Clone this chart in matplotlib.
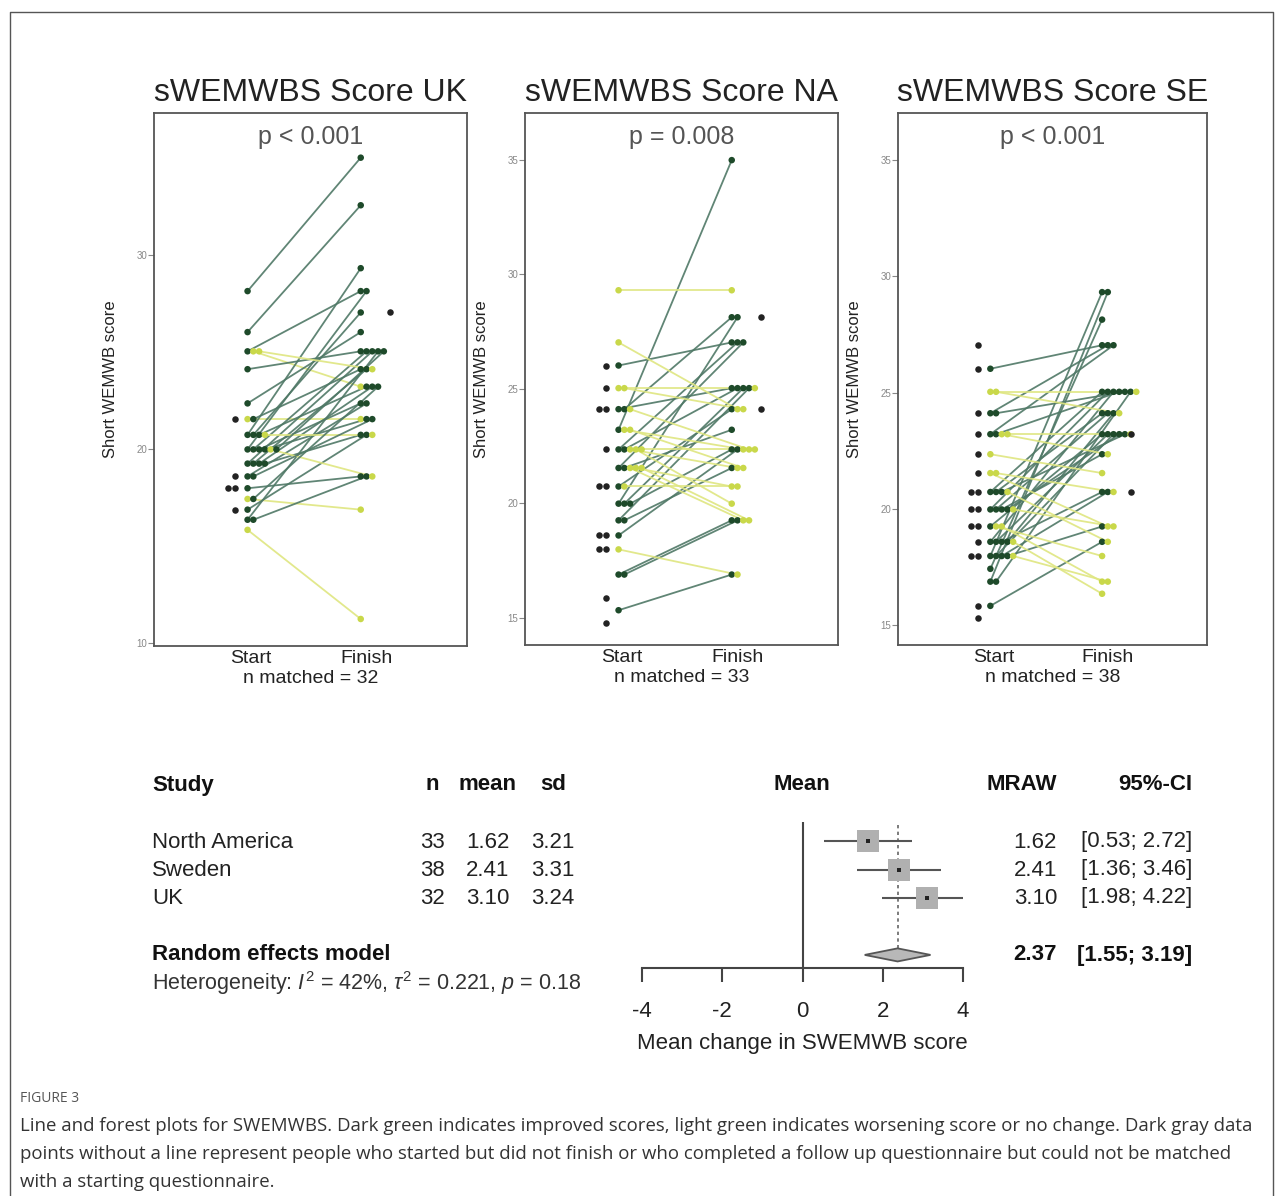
import numpy as np
import matplotlib
matplotlib.use('Agg')
import matplotlib.pyplot as plt
from matplotlib.patches import Polygon

plt.rcParams['font.family'] = ['Liberation Sans', 'DejaVu Sans']
plt.rcParams['axes.unicode_minus'] = False
plt.rcParams['mathtext.fontset'] = 'custom'
plt.rcParams['mathtext.rm'] = 'Liberation Sans'
plt.rcParams['mathtext.it'] = 'Liberation Sans:italic'

# ---- line plot data (matched start/finish pairs + unmatched points) ----
uk_start = [28.13, 26.02, 25.03, 25.03, 24.11, 22.35, 21.54, 21.54, 20.73, 20.73, 20.73,
            19.98, 19.98, 19.98, 19.98, 19.25, 19.25, 19.25, 19.25, 18.59, 17.98, 17.43,
            16.88, 16.36, 15.84, 16.36, 19.98, 20.73, 17.43, 18.59, 19.98, 25.03]
uk_finish = [35.00, 32.55, 28.13, 23.21, 25.03, 26.02, 21.54, 24.11, 29.31, 27.03, 23.21,
             28.13, 25.03, 22.35, 21.54, 25.03, 24.11, 23.21, 20.73, 22.35, 18.59, 16.88,
             20.73, 25.03, 11.25, 18.59, 18.59, 20.73, 23.21, 21.54, 25.03, 24.11]
uk_start_only = [21.54, 18.59, 17.98, 17.98, 16.88]
uk_finish_only = [27.03]

na_start = [23.21, 26.02, 24.11, 24.11, 22.35, 22.35, 21.54, 21.54, 19.98, 19.98, 19.98,
            19.25, 19.25, 18.59, 16.88, 16.88, 15.32, 20.73, 29.31, 27.03, 25.03, 23.21,
            22.35, 21.54, 21.54, 20.73, 17.98, 22.35, 21.54, 25.03, 23.21, 24.11, 22.35]
na_finish = [35.00, 27.03, 25.03, 28.13, 27.03, 25.03, 27.03, 23.21, 28.13, 25.03, 22.35,
             25.03, 21.54, 22.35, 19.25, 19.25, 16.88, 24.11, 29.31, 24.11, 25.03, 22.35,
             21.54, 19.25, 20.73, 20.73, 16.88, 19.98, 19.25, 24.11, 21.54, 22.35, 22.35]
na_start_only = [26.02, 25.03, 24.11, 24.11, 22.35, 20.73, 20.73, 18.59, 18.59, 17.98, 17.98,
                 15.84, 14.75]
na_finish_only = [28.13, 24.11]

se_start = [17.98, 16.88, 17.43, 26.02, 24.11, 23.21, 20.73, 19.98, 18.59, 20.73, 19.98,
            19.25, 18.59, 17.98, 19.98, 18.59, 17.98, 15.84, 17.98, 23.21, 24.11, 19.98,
            18.59, 20.73, 16.88, 25.03, 25.03, 23.21, 23.21, 22.35, 21.54, 19.25, 19.25,
            18.59, 17.98, 20.73, 19.98, 21.54]
se_finish = [29.31, 29.31, 28.13, 27.03, 27.03, 27.03, 25.03, 25.03, 25.03, 24.11, 24.11,
             23.21, 23.21, 23.21, 22.35, 20.73, 20.73, 18.59, 19.25, 25.03, 25.03, 23.21,
             24.11, 23.21, 25.03, 25.03, 24.11, 22.35, 23.21, 21.54, 19.25, 17.98, 16.88,
             16.36, 16.88, 18.59, 19.25, 20.73]
se_start_only = [27.03, 26.02, 24.11, 23.21, 22.35, 21.54, 20.73, 20.73, 19.98, 19.98, 19.25,
                 19.25, 18.59, 17.98, 17.98, 15.84, 15.32]
se_finish_only = [23.21, 20.73]

# ---- forest plot data ----
studies = ['North America', 'Sweden', 'UK']
n_obs = [33, 38, 32]
means = [1.62, 2.41, 3.10]
sds = [3.21, 3.31, 3.24]
ci_lo = [0.53, 1.36, 1.98]
ci_hi = [2.72, 3.46, 4.22]
re_mean, re_lo, re_hi = 2.37, 1.55, 3.19
het_text = r'Heterogeneity: $I^2$ = 42%, $\tau^2$ = 0.221, $p$ = 0.18'

DARK = '#1e4a2a'
DARK_LINE = '#4f7866'
YELLOW = '#c9d84a'
YELLOW_LINE = '#dfe680'
GRAY = '#222222'

W, H = 1281, 1196
fig = plt.figure(figsize=(W / 100, H / 100), dpi=100)


def rect(l, t, r, b):
    return [l / W, 1 - b / H, (r - l) / W, (b - t) / H]


bg = fig.add_axes([0, 0, 1, 1])
bg.set_xlim(0, W)
bg.set_ylim(H, 0)
bg.axis('off')
bg.plot([10, 10, 1273, 1273], [H + 5, 12, 12, H + 5], color='#555555', lw=1)


def dodge(vals, base, step):
    seen = {}
    xs = []
    for v in vals:
        k = seen.get(v, 0)
        seen[v] = k + 1
        xs.append(base + k * step)
    return np.array(xs)


def line_panel(box, start, finish, start_only, finish_only, title, ptxt, ylim, yticks):
    ax = fig.add_axes(rect(*box))
    start = np.array(start)
    finish = np.array(finish)
    xs = dodge(start, 0.97, 0.05)
    xf = dodge(finish, 1.95, 0.05)
    better = finish > start
    for i in range(len(start)):
        c = DARK_LINE if better[i] else YELLOW_LINE
        ax.plot([xs[i], xf[i]], [start[i], finish[i]], color=c, lw=1.3,
                alpha=0.9, zorder=1)
    cols = [DARK if b else YELLOW for b in better]
    ax.scatter(xs, start, s=22, c=cols, zorder=3, linewidths=0)
    ax.scatter(xf, finish, s=22, c=cols, zorder=3, linewidths=0)
    ax.scatter(dodge(start_only, 0.86, -0.06), start_only, s=22, c=GRAY,
               zorder=3, linewidths=0)
    ax.scatter(dodge(finish_only, 2.2, 0.06), finish_only, s=22, c=GRAY,
               zorder=3, linewidths=0)

    ax.set_xlim(0.16, 2.87)
    ax.set_ylim(*ylim)
    ax.set_yticks(yticks)
    ax.tick_params(axis='y', labelsize=7, colors='#888888', length=4, width=0.8, pad=1)
    ax.set_xticks([1, 2])
    ax.set_xticklabels(['Start', 'Finish'], fontsize=14, color='#222222')
    ax.tick_params(axis='x', length=0, pad=3)
    ax.set_xlabel(f'n matched = {len(start)}', fontsize=14, color='#222222', labelpad=2)
    ax.set_ylabel('Short WEMWB score', fontsize=12, color='#222222')
    ax.yaxis.set_label_coords(-36 / (box[2] - box[0]), 0.5)
    for sp in ax.spines.values():
        sp.set_color('#555555')
        sp.set_linewidth(1.3)
    ax.text(0.5, 0.955, ptxt, transform=ax.transAxes, ha='center', va='center',
            fontsize=18, color='#555555')
    bg.text((box[0] + box[2]) / 2, 93, title, ha='center', va='center',
            fontsize=23, color='#222222')


line_panel((154, 113, 467, 646), uk_start, uk_finish, uk_start_only, uk_finish_only,
           'sWEMWBS Score UK', 'p < 0.001', (9.86, 37.3), [10, 20, 30])
line_panel((525, 113, 838, 645), na_start, na_finish, na_start_only, na_finish_only,
           'sWEMWBS Score NA', 'p = 0.008', (13.8, 37.06), [15, 20, 25, 30, 35])
line_panel((898, 113, 1207, 645), se_start, se_finish, se_start_only, se_finish_only,
           'sWEMWBS Score SE', 'p < 0.001', (14.16, 37.0), [15, 20, 25, 30, 35])

# ---- forest plot ----
fa = fig.add_axes(rect(642, 822, 963, 968))
fa.set_xlim(-4, 4)
fa.set_ylim(4.46, -0.67)
rows = np.arange(len(studies))
fa.axvline(0, color='#444444', lw=1.5)
fa.plot([re_mean, re_mean], [-0.55, 3.77], ls=(0, (2, 2)), color='#666666', lw=1.2)
fa.hlines(rows, ci_lo, ci_hi, color='#555555', lw=1.5, zorder=2)
fa.scatter(means, rows, marker='s', s=250, color='#b0b0b0', linewidths=0, zorder=3)
fa.scatter(means, rows, marker='s', s=5, color='#222222', linewidths=0, zorder=4)
fa.add_patch(Polygon([(re_lo, 4), (re_mean, 3.77), (re_hi, 4), (re_mean, 4.23)],
                     closed=True, facecolor='#b8b8b8', edgecolor='#555555', lw=1.3,
                     zorder=3, clip_on=False))
for s in ['left', 'top', 'right']:
    fa.spines[s].set_visible(False)
fa.spines['bottom'].set_color('#444444')
fa.spines['bottom'].set_linewidth(1.5)
fa.set_yticks([])
fa.set_xticks([-4, -2, 0, 2, 4])
fa.tick_params(axis='x', direction='out', length=10, width=1.5, color='#444444',
               labelsize=16, pad=14, labelcolor='#222222')
fa.set_xlabel('Mean change in SWEMWB score', fontsize=16, color='#222222', labelpad=8)
fa.patch.set_alpha(0)

row_y = [842, 870, 898]
hdr = dict(fontsize=16, fontweight='bold', color='#111111', va='center')
bg.text(152, 785, 'Study', ha='left', **hdr)
bg.text(432, 785, 'n', ha='center', **hdr)
bg.text(488, 785, 'mean', ha='center', **hdr)
bg.text(553, 785, 'sd', ha='center', **hdr)
bg.text(802, 785, 'Mean', ha='center', **hdr)
bg.text(1057, 785, 'MRAW', ha='right', **hdr)
bg.text(1192, 785, '95%-CI', ha='right', **hdr)
body = dict(fontsize=16, color='#222222', va='center')
for i, y in enumerate(row_y):
    bg.text(152, y, studies[i], ha='left', **body)
    bg.text(432, y, f'{n_obs[i]}', ha='center', **body)
    bg.text(488, y, f'{means[i]:.2f}', ha='center', **body)
    bg.text(553, y, f'{sds[i]:.2f}', ha='center', **body)
    bg.text(1057, y, f'{means[i]:.2f}', ha='right', **body)
    bg.text(1192, y, f'[{ci_lo[i]:.2f}; {ci_hi[i]:.2f}]', ha='right', **body)
bg.text(152, 955, 'Random effects model', ha='left', **hdr)
bg.text(1057, 955, f'{re_mean:.2f}', ha='right', **hdr)
bg.text(1192, 955, f'[{re_lo:.2f}; {re_hi:.2f}]', ha='right', **hdr)
bg.text(152, 983, het_text, ha='left', fontsize=15.5, color='#333333', va='center')

# ---- caption ----
cap_font = ['Open Sans', 'DejaVu Sans']
bg.text(20, 1098, 'FIGURE 3', fontsize=10, color='#555555', va='center', family=cap_font)
caption = [
    'Line and forest plots for SWEMWBS. Dark green indicates improved scores, light green '
    'indicates worsening score or no change. Dark gray data',
    'points without a line represent people who started but did not finish or who completed '
    'a follow up questionnaire but could not be matched',
    'with a starting questionnaire.',
]
cap_texts = [bg.text(20, 1126 + 28 * i, line, fontsize=14, color='#333333', va='center',
                     family=cap_font) for i, line in enumerate(caption)]
# shrink caption so the first line spans the same width as in the figure
renderer = fig.canvas.get_renderer()
w0 = cap_texts[0].get_window_extent(renderer).width
for t in cap_texts:
    t.set_fontsize(14 * 1240 / w0)

fig.savefig('out.png', dpi=100)
